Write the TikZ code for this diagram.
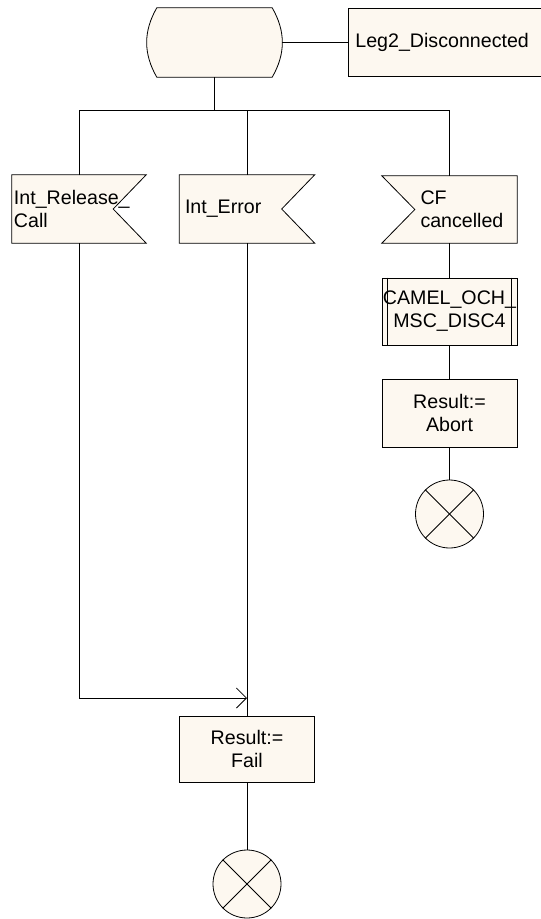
\documentclass[tikz,border=0pt]{standalone}
\usepackage{fontspec}
\setmainfont{Liberation Sans}
\usetikzlibrary{arrows.meta,backgrounds}
\definecolor{sdlfill}{RGB}{253,248,240}
\tikzset{
  sdl/.style={draw=black, fill=sdlfill, line width=0.8bp},
  wire/.style={line width=0.8bp},
  taskbox/.style={sdl, rectangle, minimum width=135bp, minimum height=68bp, inner sep=0pt, align=center},
  inbox/.style={rectangle, minimum width=135bp, minimum height=68bp, align=left},
  stopsym/.style={sdl, circle, minimum size=68bp, inner sep=0pt}
}
\begin{document}
\begin{tikzpicture}[x=1bp, y=-1bp, font=\fontsize{19.7}{23.1}\selectfont]
\useasboundingbox (0,0) rectangle (541,919);
\node [rectangle, minimum width=135bp, minimum height=69bp] (st) at (214.5,42.5) {};
\filldraw [sdl] ([xshift=10bp]st.north west) -- ([xshift=-10bp]st.north east)
  to [bend left=30] ([xshift=-10bp]st.south east) -- ([xshift=10bp]st.south west)
  to [bend left=30] ([xshift=10bp]st.north west) -- cycle;
\node [sdl, rectangle, anchor=west, minimum width=215bp, minimum height=68bp, text width=201bp, inner xsep=7bp, align=left] (leg) at (348,42.5) {Leg2\_Disconnected};
\draw [wire] (st.east) -- (leg.west);

\node [inbox, minimum width=134bp, text width=130bp, inner xsep=2bp] (relcall) at (79,209) {Int\_Release\_\\Call};
\node [inbox, text width=124bp, inner xsep=5bp] (interr) at (247,209) {Int\_Error};
\node [inbox, minimum height=67bp, text width=58bp, inner xsep=0pt] (cfcanc) at (449.5,209.5) {CF\\\mbox{cancelled}};
\begin{scope}[on background layer]
\filldraw [sdl] (relcall.north west) -- (relcall.north east) -- ([xshift=-33bp]relcall.east) -- (relcall.south east) -- (relcall.south west) -- cycle;
\filldraw [sdl] (interr.north west) -- (interr.north east) -- ([xshift=-33bp]interr.east) -- (interr.south east) -- (interr.south west) -- cycle;
\filldraw [sdl] (cfcanc.north west) -- (cfcanc.north east) -- (cfcanc.south east) -- (cfcanc.south west) -- ([xshift=33bp]cfcanc.west) -- cycle;
\end{scope}

\coordinate (busl) at (79,110);
\coordinate (busr) at (449.5,110);
\draw [wire] (st.south) -- (st.south |- busl);
\draw [wire] (relcall.north) -- (busl) -- (busr) -- (cfcanc.north);
\draw [wire] (interr.north |- busl) -- (interr.north);

\node [taskbox, minimum height=67bp] (camel) at (449.5,311.5) {CAMEL\_OCH\_\\MSC\_DISC4};
\draw [wire] ([xshift=6bp]camel.north west) -- ([xshift=6bp]camel.south west);
\draw [wire] ([xshift=-6bp]camel.north east) -- ([xshift=-6bp]camel.south east);
\node [taskbox] (abort) at (449.5,413) {Result:=\\Abort};
\node [stopsym] (stpab) at (449.5,514) {};
\draw [wire] (stpab.north west) -- (stpab.south east);
\draw [wire] (stpab.north east) -- (stpab.south west);
\draw [wire] (cfcanc.south) -- (camel.north);
\draw [wire] (camel.south) -- (abort.north);
\draw [wire] (abort.south) -- (stpab.north);

\node [taskbox, minimum height=66bp] (fail) at (247,749) {Result:=\\Fail};
\node [stopsym] (stpfl) at (247,884) {};
\draw [wire] (stpfl.north west) -- (stpfl.south east);
\draw [wire] (stpfl.north east) -- (stpfl.south west);
\coordinate (merge) at (247,698);
\draw [wire] (interr.south) -- (fail.north);
\draw [wire, -{Straight Barb[length=10bp, width=20bp]}] (relcall.south) |- (merge);
\draw [wire] (fail.south) -- (stpfl.north);
\end{tikzpicture}
\end{document}
